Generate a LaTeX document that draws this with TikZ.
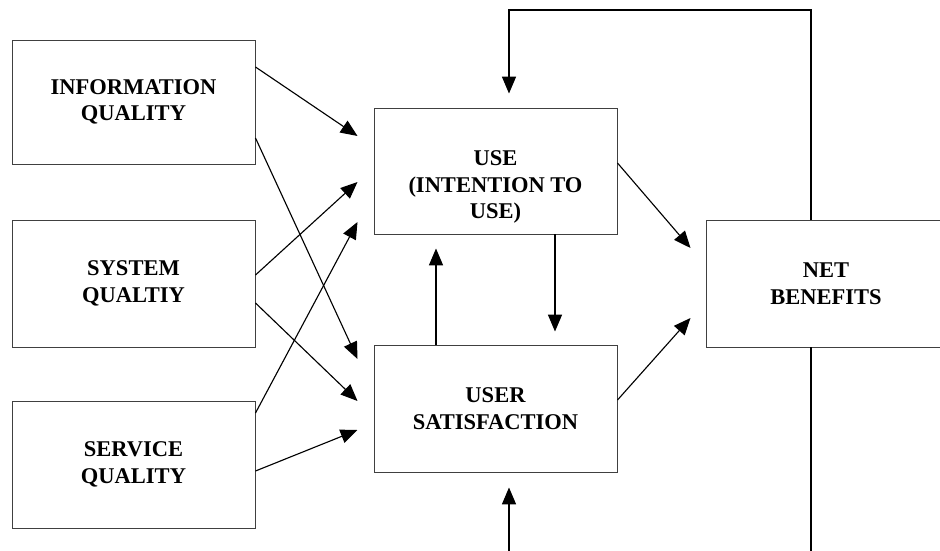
\documentclass[tikz,border=0pt]{standalone}
\usepackage{fontspec}
\setmainfont{Liberation Serif}
\usepackage{tikz}
\usetikzlibrary{arrows.meta}
\usetikzlibrary{calc}

\begin{document}
\begin{tikzpicture}[x=0.025cm, y=-0.025cm,
    blk/.style={draw=black!75, line width=0.7pt, rectangle, inner sep=0pt},
    txt/.style={align=center, font=\bfseries\fontsize{16}{19}\selectfont},
    arr/.style={-{Triangle[length=12pt, width=10pt]}, line width=0.8pt}]
        % fix the frame of the picture
        \useasboundingbox (0,0) rectangle (940,551);
        \clip (0,0) rectangle (940,551);

        % draw 3 boxes on the left
        \node[blk, txt, minimum width=243*0.025cm, minimum height=124*0.025cm] (IQ) at (133.5,102) {INFORMATION\\QUALITY};
        \node[blk, txt, minimum width=243*0.025cm, minimum height=127*0.025cm] (SQ) at (133.5,283.5) {SYSTEM\\QUALTIY};
        \node[blk, txt, minimum width=243*0.025cm, minimum height=127*0.025cm] (SV) at (133.5,464.5) {SERVICE\\QUALITY};

        % draw use and user satisfaction in the middle
        \node[blk, minimum width=243*0.025cm, minimum height=126*0.025cm] (USE) at (495.5,171) {};
        \node[txt] (USEtxt) at ($(USE.center)+(0,16)$) {USE\\(INTENTION TO\\USE)};
        \node[blk, txt, minimum width=243*0.025cm, minimum height=127*0.025cm] (US) at (495.5,408.5) {USER\\SATISFACTION};

        % draw net benefits on the right
        \node[blk, txt, minimum width=240*0.025cm, minimum height=127*0.025cm] (NB) at (826,283.5) {NET\\BENEFITS};

        % arrows from the 3 qualities
        \draw[arr] ($(IQ.east)+(0,-35)$) -- ($(USE.west)+(-16,-35)$);
        \draw[arr] ($(IQ.east)+(0,36)$) -- ($(US.west)+(-16,-49.5)$);
        \draw[arr] ($(SQ.east)+(0,-8.5)$) -- ($(USE.west)+(-16,11)$);
        \draw[arr] ($(SQ.east)+(0,19.5)$) -- ($(US.west)+(-16,-7.5)$);
        \draw[arr] ($(SV.east)+(0,-51.5)$) -- ($(USE.west)+(-16,51)$);
        \draw[arr] ($(SV.east)+(0,6.5)$) -- ($(US.west)+(-16,21.5)$);

        % arrows between use and user satisfaction
        \draw[arr] ($(US.north)+(-59.5,0)$) -- ($(USE.south)+(-59.5,14)$);
        \draw[arr] ($(USE.south)+(59.5,0)$) -- ($(US.north)+(59.5,-13)$);

        % arrows into net benefits
        \draw[arr] ($(USE.east)+(0,-8)$) -- ($(NB.west)+(-15,-35.5)$);
        \draw[arr] ($(US.east)+(0,-8.5)$) -- ($(NB.west)+(-15,34.5)$);

        % feedback loops from net benefits
        \coordinate (NBtop) at ($(NB.north)+(-15,0)$);
        \coordinate (NBbot) at ($(NB.south)+(-15,0)$);
        \draw[arr] (NBtop) -- (NBtop |- 0,10) -| ($(USE.north)+(13.5,-14)$);
        \draw[arr] (NBbot) -- (NBbot |- 0,580) -| ($(US.south)+(13.5,15)$);

      \end{tikzpicture}
\end{document}
